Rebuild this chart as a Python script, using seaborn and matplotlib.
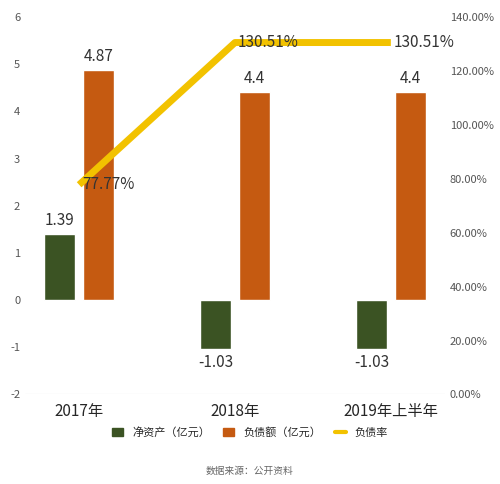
import matplotlib
matplotlib.use("Agg")
import matplotlib.pyplot as plt
import numpy as np
import pandas as pd
import seaborn as sns

categories = ["2017年", "2018年", "2019年上半年"]
net_assets = [1.39, -1.03, -1.03]
liabilities = [4.87, 4.4, 4.4]
debt_ratio = [77.77, 130.51, 130.51]
net_labels = ["1.39", "-1.03", "-1.03"]
liab_labels = ["4.87", "4.4", "4.4"]
ratio_labels = ["77.77%", "130.51%", "130.51%"]

sns.set_theme(style="white")
plt.rcParams["font.family"] = ["Noto Sans CJK SC", "DejaVu Sans"]
plt.rcParams["axes.unicode_minus"] = False

df = pd.DataFrame({
    "year": categories * 2,
    "value": net_assets + liabilities,
    "series": ["净资产（亿元）"] * 3 + ["负债额（亿元）"] * 3,
})

fig = plt.figure(figsize=(5.0, 4.84), dpi=100)
ax = fig.add_axes([0.05, 0.185, 0.84, 0.78])
sns.barplot(data=df, x="year", y="value", hue="series", saturation=1,
            palette=["#3b5323", "#c55a11"], width=0.5, gap=0.2, ax=ax, legend=False)
ax.set_ylim(-2, 6)
ax.set_yticks(range(-2, 7))
ax.set_xlabel("")
ax.set_ylabel("")
ax.tick_params(axis="y", labelsize=8, colors="#555555", length=0)
ax.tick_params(axis="x", labelsize=11, length=0, pad=6)
for s in ["top", "right", "left", "bottom"]:
    ax.spines[s].set_visible(False)
ax.axhline(-2, color="#cccccc", lw=0.8)

x = np.arange(len(categories))
for p, lab in zip(ax.patches[:3], net_labels):
    v = p.get_height()
    y = v + 0.12 if v >= 0 else v - 0.12
    ax.text(p.get_x() + p.get_width() / 2, y, lab, ha="center",
            va="bottom" if v >= 0 else "top", fontsize=11, color="#333333")
for p, lab in zip(ax.patches[3:6], liab_labels):
    ax.text(p.get_x() + p.get_width() / 2, p.get_height() + 0.12, lab,
            ha="center", va="bottom", fontsize=11, color="#333333")

ax2 = ax.twinx()
ax2.plot(x, debt_ratio, color="#f2c200", lw=5, solid_capstyle="butt")
ax2.set_ylim(0, 140)
ax2.set_yticks(range(0, 141, 20))
ax2.set_yticklabels([f"{v}.00%" for v in range(0, 141, 20)])
ax2.tick_params(axis="y", labelsize=8, colors="#555555", length=0)
for s in ["top", "right", "left", "bottom"]:
    ax2.spines[s].set_visible(False)
for xi, v, lab in zip(x, debt_ratio, ratio_labels):
    ax2.text(xi + 0.02, v, lab, ha="left", va="center", fontsize=11, color="#333333")

handles = [
    plt.Rectangle((0, 0), 1, 1, color="#3b5323"),
    plt.Rectangle((0, 0), 1, 1, color="#c55a11"),
    plt.Line2D([0], [0], color="#f2c200", lw=3),
]
fig.legend(handles, ["净资产（亿元）", "负债额（亿元）", "负债率"],
           loc="lower center", bbox_to_anchor=(0.5, 0.075), ncol=3,
           frameon=False, fontsize=8, handlelength=1.0, columnspacing=1.2)
fig.text(0.5, 0.02, "数据来源：公开资料", ha="center", fontsize=7, color="#666666")

fig.savefig("out.png", dpi=100)
